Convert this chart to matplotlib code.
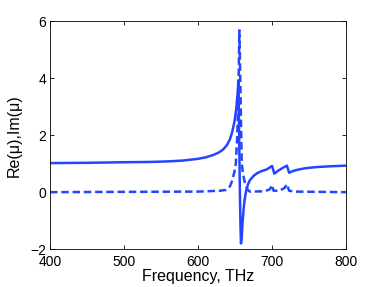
import matplotlib
matplotlib.use("Agg")
import matplotlib.pyplot as plt

# values
freq_re = [400, 450, 500, 535, 560, 580, 600, 610, 620, 628, 634, 639, 643, 646,
           649, 651.5, 653.5, 654.5, 655.5, 656.5, 657.3, 658, 659, 660, 661.5,
           663, 665, 667.5, 670, 675, 680, 686, 693, 700, 703, 708, 715, 720,
           723, 728, 735, 745, 760, 780, 800]
re_mu = [1.02, 1.03, 1.05, 1.06, 1.08, 1.11, 1.17, 1.22, 1.30, 1.39, 1.50, 1.65,
         1.85, 2.10, 2.45, 2.90, 3.50, 3.93, 2.0, 0.0, -1.2, -1.80, -1.6, -1.1,
         -0.6, -0.25, 0.05, 0.28, 0.42, 0.57, 0.67, 0.74, 0.80, 0.92, 0.65, 0.75,
         0.86, 0.93, 0.68, 0.74, 0.79, 0.84, 0.88, 0.91, 0.93]

freq_im = [400, 600, 630, 638, 643, 646, 649, 651, 653, 654.5, 655.8, 657, 658,
           659, 661, 663.5, 667, 670, 690, 697, 700, 702, 710, 717, 720, 723,
           730, 800]
im_mu = [0.0, 0.02, 0.05, 0.08, 0.2, 0.4, 0.7, 1.0, 2.0, 3.5, 5.68, 4.0, 2.5,
         1.0, 0.6, 0.3, 0.08, 0.02, 0.03, 0.1, 0.25, 0.05, 0.05, 0.15, 0.28,
         0.05, 0.02, 0.0]

xticks = [400, 500, 600, 700, 800]
yticks = [-2, 0, 2, 4, 6]

plt.rcParams['font.family'] = ['Liberation Sans', 'DejaVu Sans']

fig = plt.figure(figsize=(3.82, 2.87), dpi=100)
ax = fig.add_axes([0.131, 0.132, 0.775, 0.794])

col = '#2445ff'
ax.plot(freq_re, re_mu, color=col, lw=1.8)
ax.plot(freq_im, im_mu, color=col, lw=1.8, ls='--', dashes=(3.0, 1.5))

ax.set_xlim(400, 800)
ax.set_ylim(-2, 6)
ax.set_xticks(xticks)
ax.set_yticks(yticks)
ax.tick_params(direction='in', top=True, right=True, length=3, width=0.6,
               labelsize=10)
ax.tick_params(axis='x', pad=4)
ax.tick_params(axis='y', pad=3)
for s in ax.spines.values():
    s.set_linewidth(0.6)
ax.set_xlabel('Frequency, THz', fontsize=11.5, labelpad=0)
ax.set_ylabel('Re(μ),Im(μ)', fontsize=11.5, labelpad=6)

fig.savefig('out.png', dpi=100)
